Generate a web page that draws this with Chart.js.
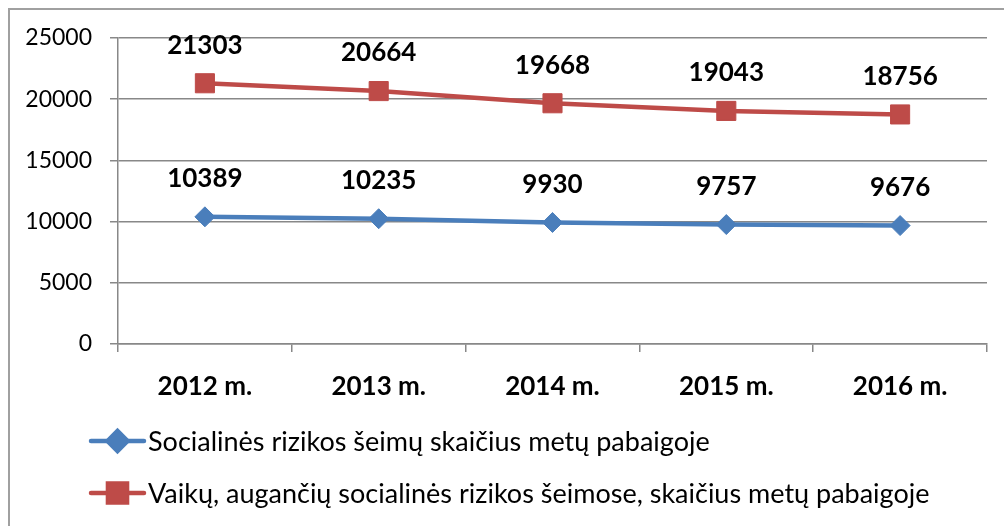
<!DOCTYPE html>
<html>
<head>
<meta charset="utf-8">
<script src="https://cdn.jsdelivr.net/npm/chart.js@4/dist/chart.umd.min.js"></script>
<style>
  body { margin: 0; background: #fff; overflow: hidden; }
  .frame { position: absolute; left: 8px; top: 8px; width: 1020px; height: 540px; border: 2px solid #a0a0a0; }
  #myChart { position: absolute; left: 0; top: 0; }
</style>
</head>
<body>
<div class="frame"></div>
<canvas id="myChart" width="1004" height="526"></canvas>
<script>
/* global Chart*/

// categories on the x axis
const years = ['2012 m.', '2013 m.', '2014 m.', '2015 m.', '2016 m.'];
// series names
const familiesLabel = 'Socialinės rizikos šeimų skaičius metų pabaigoje';
const childrenLabel = 'Vaikų, augančių socialinės rizikos šeimose, skaičius metų pabaigoje';
// series values
const families = [10389, 10235, 9930, 9757, 9676];
const children = [21303, 20664, 19668, 19043, 18756];
// y axis ticks
const yTicks = [0, 5000, 10000, 15000, 20000, 25000];

const FONT = 'Lato, Calibri, "Open Sans", sans-serif';

// value labels above each point
const valueLabels = {
  id: 'valueLabels',
  afterDatasetsDraw(chart) {
    const ctx = chart.ctx;
    ctx.save();
    ctx.font = 'bold 26px ' + FONT;
    ctx.fillStyle = '#000';
    ctx.textAlign = 'center';
    ctx.textBaseline = 'middle';
    chart.data.datasets.forEach((ds, i) => {
      chart.getDatasetMeta(i).data.forEach((pt, j) => {
        ctx.fillText(String(ds.data[j]), pt.x, pt.y - 38);
      });
    });
    ctx.restore();
  }
};

// legend stacked under the axis, line + marker like the original
const stackedLegend = {
  id: 'stackedLegend',
  afterDraw(chart) {
    const ctx = chart.ctx;
    const rows = [441, 493];
    ctx.save();
    chart.data.datasets.forEach((ds, i) => {
      const y = rows[i];
      ctx.strokeStyle = ds.borderColor;
      ctx.lineWidth = 4.5;
      ctx.lineCap = 'round';
      ctx.beginPath();
      ctx.moveTo(91, y);
      ctx.lineTo(144, y);
      ctx.stroke();
      Chart.helpers.drawPoint(ctx, {
        pointStyle: ds.pointStyle,
        radius: ds.pointRadius,
        borderWidth: 1
      }, 117.5, y);
      ctx.fillStyle = ds.pointBackgroundColor;
      ctx.fill();
      ctx.fillStyle = '#000';
      ctx.font = '27px ' + FONT;
      ctx.textBaseline = 'middle';
      ctx.fillText(ds.label, 148, y + 1);
    });
    ctx.restore();
  }
};

const ctx = document.getElementById('myChart').getContext('2d');

const chart = new Chart(ctx, {
  type: 'line',
  data: {
    labels: years,
    datasets: [{
      label: familiesLabel,
      data: families,
      borderColor: '#4A7EBB',
      backgroundColor: '#4A7EBB',
      pointBackgroundColor: '#4A7EBB',
      pointBorderColor: '#4A7EBB',
      borderWidth: 4.5,
      pointStyle: 'rectRot',
      pointRadius: 10,
      pointBorderWidth: 1,
      tension: 0,
    },
    {
      label: childrenLabel,
      data: children,
      borderColor: '#BE4B48',
      backgroundColor: '#BE4B48',
      pointBackgroundColor: '#BE4B48',
      pointBorderColor: '#BE4B48',
      borderWidth: 4.5,
      pointStyle: 'rect',
      pointRadius: 13.5,
      pointBorderWidth: 1,
      tension: 0,
    }]
  },
  options: {
    responsive: false,
    animation: false,
    layout: { padding: { left: 0, top: 38, right: 17, bottom: 0 } },
    plugins: {
      legend: { display: false },
      tooltip: { enabled: false },
    },
    scales: {
      x: {
        offset: true,
        grid: {
          offset: true,
          drawOnChartArea: false,
          tickLength: 8,
          color: '#888',
          lineWidth: 1.5,
        },
        border: { color: '#888', width: 1.5 },
        ticks: {
          color: '#000',
          padding: 19,
          font: { family: FONT, size: 26, weight: 'bold' },
        },
        afterFit(scale) { scale.height = 526 - 344; },
      },
      y: {
        min: yTicks[0],
        max: yTicks[yTicks.length - 1],
        afterBuildTicks(scale) { scale.ticks = yTicks.map(v => ({ value: v })); },
        grid: { color: '#888', lineWidth: 1.5, tickLength: 8 },
        border: { color: '#888', width: 1.5 },
        ticks: {
          color: '#000',
          padding: 18,
          font: { family: FONT, size: 23 },
          callback: (v) => String(v),
        },
        afterFit(scale) { scale.width = 118; },
      }
    }
  },
  plugins: [valueLabels, stackedLegend],
});
console.log(chart.chartArea);
</script>
</body>
</html>
